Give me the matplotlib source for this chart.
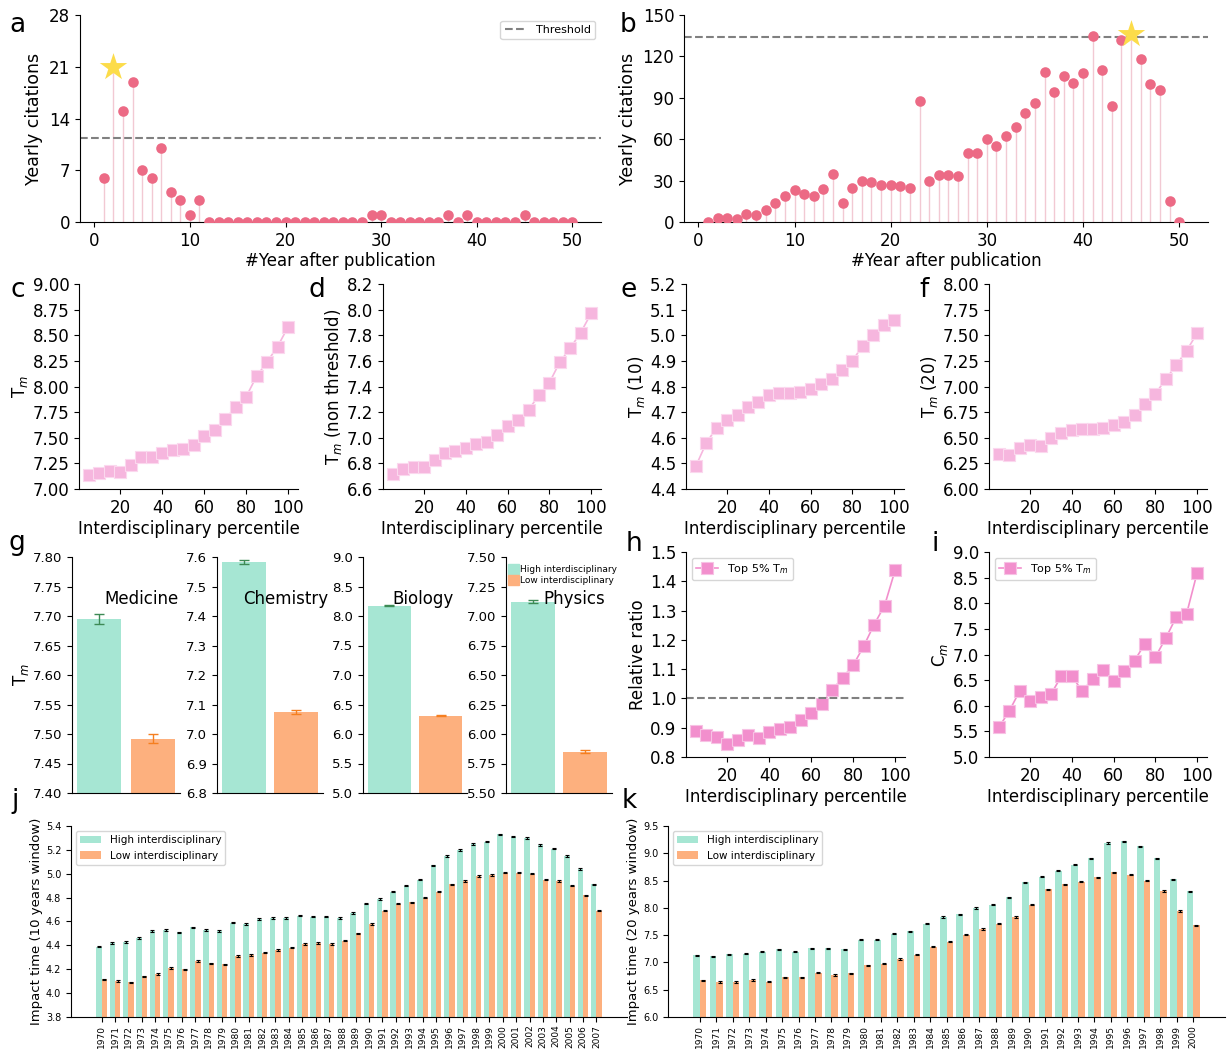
import numpy as np
import matplotlib
matplotlib.use('Agg')
import matplotlib.pyplot as plt
from matplotlib.patches import Patch

W, H = 1232, 1050

# ---- data ----
years_ab = np.arange(1, 51)
cites_a = [6, 21, 15, 19, 7, 6, 10, 4, 3, 1, 3, 0, 0, 0, 0, 0, 0, 0, 0, 0,
           0, 0, 0, 0, 0, 0, 0, 0, 1, 1, 0, 0, 0, 0, 0, 0, 1, 0, 1, 0,
           0, 0, 0, 0, 1, 0, 0, 0, 0, 0]
cites_b = [0, 3, 3, 2, 6, 5, 9, 14, 19, 23, 20, 19, 24, 35, 14, 25, 30, 29, 27, 27,
           26, 25, 88, 30, 34, 34, 33, 50, 50, 60, 55, 62, 69, 79, 86, 109, 94, 106, 101, 108,
           135, 110, 84, 132, 136, 118, 100, 96, 15, 0]
threshold_a = 11.4
threshold_b = 133.8

pct = np.arange(5, 101, 5)
tm_c = [7.14, 7.16, 7.18, 7.17, 7.23, 7.31, 7.31, 7.35, 7.38, 7.39,
        7.43, 7.52, 7.58, 7.68, 7.80, 7.90, 8.10, 8.24, 8.39, 8.58]
tm_d = [6.72, 6.76, 6.77, 6.77, 6.83, 6.88, 6.90, 6.92, 6.95, 6.97,
        7.02, 7.09, 7.14, 7.22, 7.33, 7.43, 7.59, 7.70, 7.82, 7.97]
tm_e = [4.49, 4.58, 4.64, 4.67, 4.69, 4.72, 4.74, 4.765, 4.775, 4.775,
        4.78, 4.79, 4.81, 4.83, 4.865, 4.90, 4.96, 5.00, 5.04, 5.06]
tm_f = [6.34, 6.33, 6.40, 6.43, 6.42, 6.50, 6.55, 6.58, 6.59, 6.59,
        6.60, 6.62, 6.65, 6.72, 6.83, 6.93, 7.07, 7.21, 7.35, 7.52]
ratio_h = [0.888, 0.876, 0.870, 0.843, 0.859, 0.875, 0.866, 0.887, 0.896, 0.904,
           0.928, 0.950, 0.980, 1.028, 1.071, 1.113, 1.178, 1.252, 1.317, 1.437]
cm_i = [5.58, 5.90, 6.29, 6.10, 6.17, 6.23, 6.58, 6.58, 6.28, 6.53,
        6.70, 6.49, 6.68, 6.88, 7.21, 6.95, 7.32, 7.73, 7.80, 8.59]

fields = ['Medicine', 'Chemistry', 'Biology', 'Physics']
field_high = [7.695, 7.583, 8.17, 7.12]
field_low = [7.492, 7.076, 6.31, 5.85]
field_high_err = [0.008, 0.008, 0.008, 0.012]
field_low_err = [0.008, 0.007, 0.010, 0.012]
field_ylim = [(7.40, 7.80), (6.8, 7.6), (5.0, 9.0), (5.50, 7.50)]
field_ystep = [0.05, 0.1, 0.5, 0.25]

years_j = np.arange(1970, 2008)
high_j = [4.39, 4.42, 4.43, 4.46, 4.52, 4.53, 4.51, 4.55, 4.53, 4.52,
          4.59, 4.58, 4.62, 4.63, 4.63, 4.65, 4.64, 4.64, 4.63, 4.67,
          4.75, 4.79, 4.85, 4.90, 4.95, 5.07, 5.15, 5.20, 5.25, 5.27,
          5.33, 5.31, 5.30, 5.24, 5.21, 5.15, 5.04, 4.91]
low_j = [4.115, 4.10, 4.09, 4.14, 4.16, 4.21, 4.20, 4.27, 4.25, 4.24,
         4.31, 4.32, 4.34, 4.36, 4.38, 4.41, 4.42, 4.41, 4.44, 4.50,
         4.58, 4.69, 4.75, 4.76, 4.80, 4.85, 4.91, 4.94, 4.98, 4.99,
         5.01, 5.01, 5.00, 4.95, 4.94, 4.90, 4.82, 4.69]
err_j = 0.006

years_k = np.arange(1970, 2001)
high_k = [7.13, 7.11, 7.15, 7.16, 7.20, 7.24, 7.20, 7.26, 7.26, 7.24,
          7.42, 7.42, 7.53, 7.57, 7.71, 7.83, 7.88, 8.00, 8.06, 8.19,
          8.47, 8.57, 8.68, 8.79, 8.91, 9.19, 9.22, 9.13, 8.91, 8.52, 8.30]
low_k = [6.67, 6.64, 6.64, 6.68, 6.65, 6.73, 6.73, 6.81, 6.77, 6.80,
         6.95, 6.98, 7.06, 7.14, 7.29, 7.38, 7.51, 7.61, 7.71, 7.83,
         8.06, 8.34, 8.43, 8.48, 8.56, 8.65, 8.61, 8.50, 8.31, 7.94, 7.68]
err_k = 0.012

# ---- styles ----
DOT = '#ec6a85'
STEM = '#f2c9d3'
STAR = '#fcdc4a'
PINK_LIGHT = '#f6b6de'
PINK = '#f28fcd'
HIGH = '#a6e6d3'
LOW = '#fdb07e'


def add_ax(fig, l, t, r, b):
    return fig.add_axes([l / W, 1 - b / H, (r - l) / W, (b - t) / H])


def clean(ax):
    ax.spines['top'].set_visible(False)
    ax.spines['right'].set_visible(False)


fig = plt.figure(figsize=(W / 100, H / 100), dpi=100)

# ---- a, b: yearly citation lollipops ----
for (l, t, r, b), vals, thr, ymax in [((80, 15, 601, 222), cites_a, threshold_a, 28),
                                      ((684, 15, 1208, 222), cites_b, threshold_b, 150)]:
    ax = add_ax(fig, l, t, r, b)
    vals = np.array(vals)
    peak = int(np.argmax(vals))
    ax.vlines(years_ab, 0, vals, color=STEM, lw=1, zorder=1)
    mask = np.arange(len(vals)) != peak
    ax.scatter(years_ab[mask], vals[mask], s=58, color=DOT, zorder=3, linewidths=0)
    ax.scatter(years_ab[peak], vals[peak], s=430, marker='*', color=STAR, zorder=4, linewidths=0)
    ax.axhline(thr, ls='--', color='grey', lw=1.5, label='Threshold')
    ax.set_xlim(-1.5, 53)
    ax.set_ylim(0, ymax)
    ax.set_yticks(np.linspace(0, ymax, 6 if ymax == 150 else 5))
    ax.set_xticks([0, 10, 20, 30, 40, 50])
    ax.tick_params(labelsize=12)
    ax.set_xlabel('#Year after publication', fontsize=12, labelpad=2)
    ax.set_ylabel('Yearly citations', fontsize=12.5)
    clean(ax)
    if ymax == 28:
        ax.legend(loc='upper right', fontsize=8)

# ---- c-f: T_m vs interdisciplinary percentile ----
row2 = [((79, 284, 298, 489), tm_c, (7.0, 9.0), 0.25, 'T$_m$', '%.2f'),
        ((383, 284, 601, 489), tm_d, (6.6, 8.2), 0.2, 'T$_m$ (non threshold)', '%.1f'),
        ((686, 284, 904, 489), tm_e, (4.4, 5.2), 0.1, 'T$_m$ (10)', '%.1f'),
        ((989, 284, 1207, 489), tm_f, (6.0, 8.0), 0.25, 'T$_m$ (20)', '%.2f')]
for rect, vals, ylim, step, ylab, fmt in row2:
    ax = add_ax(fig, *rect)
    ax.plot(pct, vals, '-s', color=PINK_LIGHT, ms=9, lw=1.2, mec='#fbd8ee', mew=0.8)
    ax.set_ylim(*ylim)
    ticks = np.arange(ylim[0], ylim[1] + step / 2, step)
    ax.set_yticks(ticks)
    ax.set_yticklabels([fmt % v for v in ticks])
    ax.set_xticks([20, 40, 60, 80, 100])
    ax.tick_params(labelsize=12)
    ax.set_xlabel('Interdisciplinary percentile', fontsize=12, labelpad=2)
    ax.set_ylabel(ylab, fontsize=12, labelpad=2)
    clean(ax)

# ---- g: per-field bars ----
g_rects = [(72, 557, 180, 793), (217, 557, 323, 793), (363, 557, 467, 793), (506, 557, 612, 793)]
title_x = [0.64, 0.65, 0.58, 0.64]
for i, name in enumerate(fields):
    ax = add_ax(fig, *g_rects[i])
    ax.bar([0, 1], [field_high[i], field_low[i]], width=0.83, color=[HIGH, LOW])
    ax.errorbar([0], [field_high[i]], yerr=[field_high_err[i]], fmt='none',
                ecolor='#3d8a55', capsize=3.5, elinewidth=1, capthick=1)
    ax.errorbar([1], [field_low[i]], yerr=[field_low_err[i]], fmt='none',
                ecolor='#f57f20', capsize=3.5, elinewidth=1, capthick=1)
    lo, hi = field_ylim[i]
    ax.set_ylim(lo, hi)
    ticks = np.arange(lo, hi + field_ystep[i] / 2, field_ystep[i])
    ax.set_yticks(ticks)
    dec = 2 if field_ystep[i] < 0.1 or field_ystep[i] == 0.25 else 1
    ax.set_yticklabels([f'{v:.{dec}f}' for v in ticks])
    ax.set_xticks([])
    ax.tick_params(labelsize=9.5)
    ax.text(title_x[i], 0.82, name, transform=ax.transAxes, ha='center', va='center',
            fontsize=12)
    clean(ax)
    if i == 0:
        ax.set_ylabel('T$_m$', fontsize=12, labelpad=1)
    if i == 3:
        handles = [Patch(color=HIGH, label='High interdisciplinary'),
                   Patch(color=LOW, label='Low interdisciplinary')]
        ax.legend(handles=handles, loc='upper left', bbox_to_anchor=(0.02, 0.97),
                  fontsize=6.5, frameon=False, handlelength=1.2, handleheight=1.3,
                  handletextpad=0.1, labelspacing=0.1, borderaxespad=0, borderpad=0)

# ---- h, i: top 5% ----
for rect, vals, ylim, step, ylab in [((686, 552, 905, 757), ratio_h, (0.8, 1.5), 0.1, 'Relative ratio'),
                                     ((989, 552, 1207, 757), cm_i, (5.0, 9.0), 0.5, 'C$_m$')]:
    ax = add_ax(fig, *rect)
    ax.plot(pct, vals, '-s', color=PINK, ms=8.5, lw=1.2, mec='#f7c2e4', mew=0.8,
            label='Top 5% T$_m$')
    if ylab == 'Relative ratio':
        ax.axhline(1.0, ls='--', color='grey', lw=1.5)
    ax.set_ylim(*ylim)
    ticks = np.arange(ylim[0], ylim[1] + step / 2, step)
    ax.set_yticks(ticks)
    ax.set_yticklabels([f'{v:.1f}' for v in ticks])
    ax.set_xticks([20, 40, 60, 80, 100])
    ax.tick_params(labelsize=12)
    ax.set_xlabel('Interdisciplinary percentile', fontsize=12, labelpad=2)
    ax.set_ylabel(ylab, fontsize=12, labelpad=2)
    ax.legend(loc='upper left', fontsize=8)
    clean(ax)

# ---- j, k: yearly high vs low ----
for rect, yrs, hi, lo, err, ylim, step, ylab in [
        ((71, 826, 627, 1017), years_j, high_j, low_j, err_j, (3.8, 5.4), 0.2,
         'Impact time (10 years window)'),
        ((668, 826, 1225, 1017), years_k, high_k, low_k, err_k, (6.0, 9.5), 0.5,
         'Impact time (20 years window)')]:
    ax = add_ax(fig, *rect)
    x = np.arange(len(yrs))
    ekw = dict(ecolor='black', elinewidth=0.8, capthick=0.8)
    ax.bar(x - 0.2, hi, 0.4, yerr=err, capsize=1.2, error_kw=ekw, color=HIGH,
           label='High interdisciplinary')
    ax.bar(x + 0.2, lo, 0.4, yerr=err, capsize=1.2, error_kw=ekw, color=LOW,
           label='Low interdisciplinary')
    ax.set_ylim(*ylim)
    ticks = np.arange(ylim[0], ylim[1] + step / 2, step)
    ax.set_yticks(ticks)
    ax.set_yticklabels([f'{v:.1f}' for v in ticks])
    ax.set_xticks(x)
    ax.set_xticklabels([str(y) for y in yrs], rotation=90)
    ax.tick_params(axis='x', labelsize=6.5, pad=2)
    ax.tick_params(axis='y', labelsize=7)
    ax.set_ylabel(ylab, fontsize=9.5, labelpad=2)
    ax.legend(loc='upper left', fontsize=7.5)
    clean(ax)

# ---- panel letters ----
letters = [('a', 9, 32), ('b', 620, 32), ('c', 11, 297), ('d', 309, 297), ('e', 621, 297),
           ('f', 919, 297), ('g', 9, 550), ('h', 626, 551), ('i', 932, 551),
           ('j', 11, 808), ('k', 622, 808)]
for s, x, y in letters:
    fig.text(x / W, 1 - y / H, s, fontsize=19, va='baseline', ha='left')

fig.savefig('out.png', dpi=100)
